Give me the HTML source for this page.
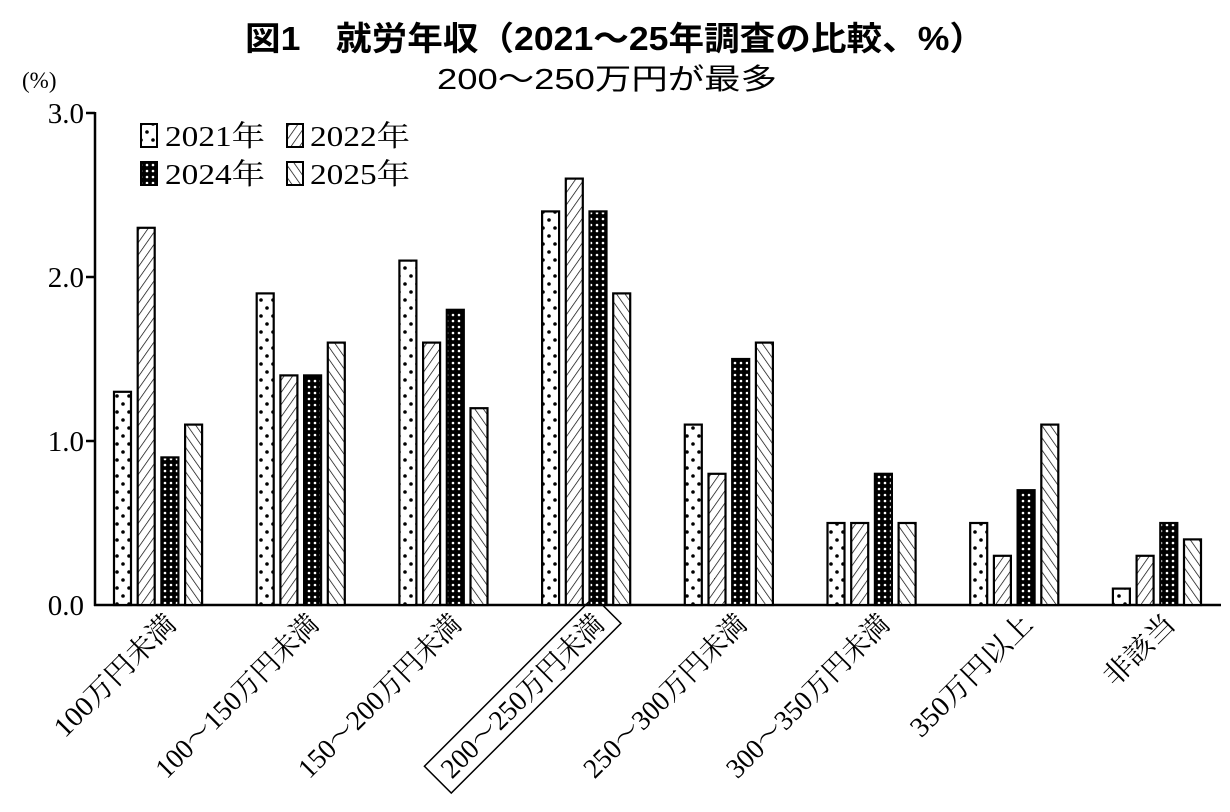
<!DOCTYPE html>
<html><head><meta charset="utf-8"><style>
html,body{margin:0;padding:0;background:#fff;}
svg{display:block;}
.t{font-family:"Liberation Serif","Noto Serif CJK SC",serif;}
.s{font-family:"Liberation Sans","Noto Sans CJK JP",sans-serif;}
</style></head><body>
<svg width="1230" height="812" viewBox="0 0 1230 812" xmlns="http://www.w3.org/2000/svg">
<defs>
<pattern id="p1" width="12" height="16" patternUnits="userSpaceOnUse">
<rect width="12" height="16" fill="#fff"/><circle cx="3" cy="4" r="1.8" fill="#000"/><circle cx="9" cy="12" r="1.8" fill="#000"/></pattern>
<pattern id="p2" width="7" height="7" patternUnits="userSpaceOnUse" patternTransform="rotate(35)">
<rect width="7" height="7" fill="#fff"/><line x1="0" y1="0" x2="0" y2="7" stroke="#000" stroke-width="1.4"/></pattern>
<pattern id="p3" width="6" height="6" patternUnits="userSpaceOnUse">
<rect width="6" height="6" fill="#000"/><circle cx="3" cy="3" r="1.3" fill="#fff"/></pattern>
<pattern id="p4" width="7" height="7" patternUnits="userSpaceOnUse" patternTransform="rotate(-35)">
<rect width="7" height="7" fill="#fff"/><line x1="0" y1="0" x2="0" y2="7" stroke="#000" stroke-width="1.4"/></pattern>
</defs>
<text class="s" x="615" y="50" text-anchor="middle" font-size="33" font-weight="bold" textLength="740" lengthAdjust="spacingAndGlyphs">図1　就労年収（2021～25年調査の比較、%）</text>
<text class="s" x="607" y="89" text-anchor="middle" font-size="29" textLength="340" lengthAdjust="spacingAndGlyphs">200～250万円が最多</text>
<text class="t" x="22" y="88" font-size="23">(%)</text>
<g class="t" font-size="29" text-anchor="end">
<text x="84" y="123">3.0</text><text x="84" y="287">2.0</text><text x="84" y="451">1.0</text><text x="84" y="615">0.0</text>
</g>
<g stroke="#000" stroke-width="2.5" fill="none">
<line x1="95" y1="112" x2="95" y2="606"/>
<line x1="86" y1="113" x2="95" y2="113"/>
<line x1="86" y1="277" x2="95" y2="277"/>
<line x1="86" y1="441" x2="95" y2="441"/>
<line x1="94" y1="605" x2="1221" y2="605"/>
</g>
<g id="bars" stroke="#000" stroke-width="2.2"></g>
<g class="t" font-size="29">
<rect x="141" y="124" width="16" height="23" fill="url(#p1)" stroke="#000" stroke-width="2"/><text x="165" y="146" textLength="100" lengthAdjust="spacingAndGlyphs">2021年</text>
<rect x="287" y="124" width="16" height="23" fill="url(#p2)" stroke="#000" stroke-width="2"/><text x="310" y="146" textLength="100" lengthAdjust="spacingAndGlyphs">2022年</text>
<rect x="141" y="162" width="16" height="23" fill="url(#p3)" stroke="#000" stroke-width="2"/><text x="165" y="184" textLength="100" lengthAdjust="spacingAndGlyphs">2024年</text>
<rect x="287" y="162" width="16" height="23" fill="url(#p4)" stroke="#000" stroke-width="2"/><text x="310" y="184" textLength="100" lengthAdjust="spacingAndGlyphs">2025年</text>
</g>
<g id="labels" class="t" font-size="28"></g>
<script>
var v=[[1.3,2.3,0.9,1.1],[1.9,1.4,1.4,1.6],[2.1,1.6,1.8,1.2],[2.4,2.6,2.4,1.9],[1.1,0.8,1.5,1.6],[0.5,0.5,0.8,0.5],[0.5,0.3,0.7,1.1],[0.1,0.3,0.5,0.4]];
var L=["100万円未満","100～150万円未満","150～200万円未満","200～250万円未満","250～300万円未満","300～350万円未満","350万円以上","非該当"];
var ns="http://www.w3.org/2000/svg",g=document.getElementById("bars"),lg=document.getElementById("labels");
for(var i=0;i<8;i++){var x0=114+i*142.7;
for(var j=0;j<4;j++){var r=document.createElementNS(ns,"rect");var h=v[i][j]*164;
r.setAttribute("x",x0+j*23.7);r.setAttribute("y",605-h);r.setAttribute("width",17);r.setAttribute("height",h);
r.setAttribute("fill","url(#p"+(j+1)+")");g.appendChild(r);}
var cx=x0+52,ty=622;
var t=document.createElementNS(ns,"text");t.setAttribute("x",cx+6);t.setAttribute("y",ty+11);
t.setAttribute("text-anchor","end");t.setAttribute("transform","rotate(-45 "+cx+" "+ty+")");
t.setAttribute("textLength", i==7?88:(i==0?160:(i==6?160:218)));t.setAttribute("lengthAdjust","spacingAndGlyphs");
t.textContent=L[i];lg.appendChild(t);
if(i==3){var b=document.createElementNS(ns,"rect");b.setAttribute("x",cx-222);b.setAttribute("y",ty-18);b.setAttribute("width",240);b.setAttribute("height",38);
b.setAttribute("fill","none");b.setAttribute("stroke","#000");b.setAttribute("stroke-width","1.5");b.setAttribute("transform","rotate(-45 "+cx+" "+ty+")");lg.appendChild(b);}
}
</script>
</svg>
</body></html>
